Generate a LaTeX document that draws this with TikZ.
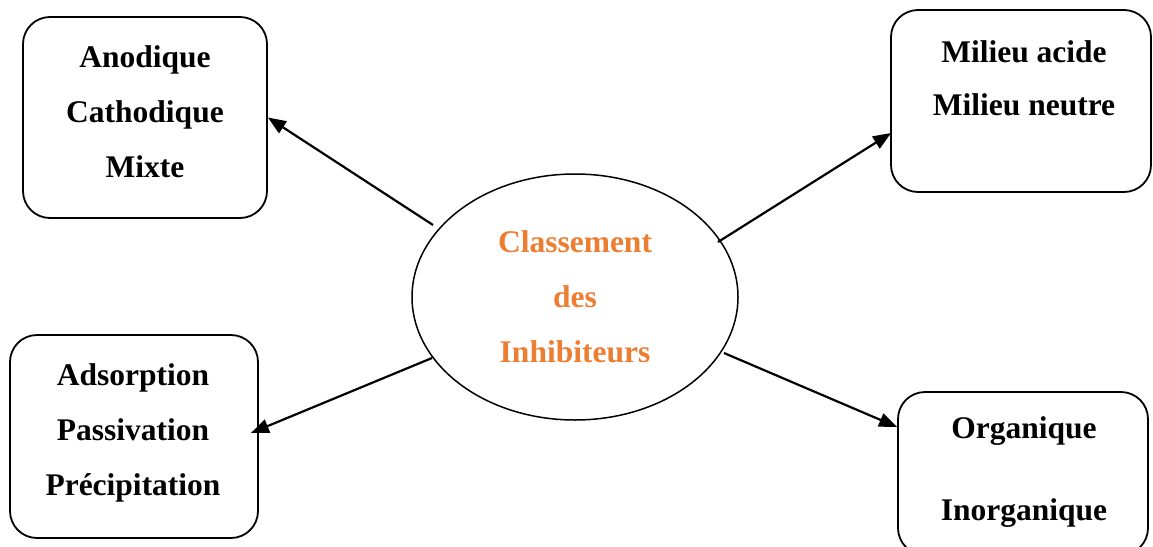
\documentclass[tikz,border=0pt]{standalone}
\usepackage{fontspec}
\setmainfont{Liberation Serif}
\usetikzlibrary{arrows.meta,calc,shapes.geometric}
\definecolor{orangetxt}{RGB}{237,125,49}
\begin{document}
\begin{tikzpicture}[x=1pt,y=-1pt,
  box/.style={draw,line width=1.8pt,rounded corners=27pt,inner sep=0pt},
  lbl/.style={font=\fontsize{31.5}{55}\selectfont\bfseries,align=center,inner sep=0pt},
  conn/.style={line width=2.2pt,-{Triangle[length=18pt,width=14pt]}}]
\useasboundingbox (0,0) rectangle (1153,546);
% boxes
\node[box,minimum width=244pt,minimum height=201pt] (b1) at (145,117.5) {};
\node[box,minimum width=260pt,minimum height=182pt] (b2) at (1021,101) {};
\node[box,minimum width=248pt,minimum height=203pt] (b3) at (134,436.5) {};
\node[box,minimum width=250pt,minimum height=163pt] (b4) at (1023,473.5) {};
% texts
\node[lbl] (t1) at (145,111.8) {Anodique\\Cathodique\\Mixte};
\node[lbl,font=\fontsize{31.5}{53}\selectfont\bfseries] (t2) at (1024,77.8) {Milieu acide\\Milieu neutre};
\node[lbl] (t3) at (133,432.6) {Adsorption\\Passivation\\Précipitation};
\node[lbl,font=\fontsize{31.5}{82}\selectfont\bfseries] (t4) at (1024,471.6) {Organique\\Inorganique};
% ellipse
\node[ellipse,draw,line width=1.5pt,minimum width=326pt,minimum height=246pt,inner sep=0pt] (ell) at (575,297) {};
\node[lbl,text=orangetxt] (tc) at (575,296.3) {Classement\\des\\Inhibiteurs};
% connectors
\draw[conn] ($(ell.center)+(-142,-72)$) -- (b1.east);
\draw[conn] ($(ell.center)+(143,-55)$) -- ($(b2.west)+(1,32)$);
\draw[conn] ($(ell.center)+(-143,61)$) -- ($(b3.east)+(-8,-3.5)$);
\draw[conn] ($(ell.center)+(149,56)$) -- ($(b4.west)+(0,-46.5)$);
\end{tikzpicture}
\end{document}
